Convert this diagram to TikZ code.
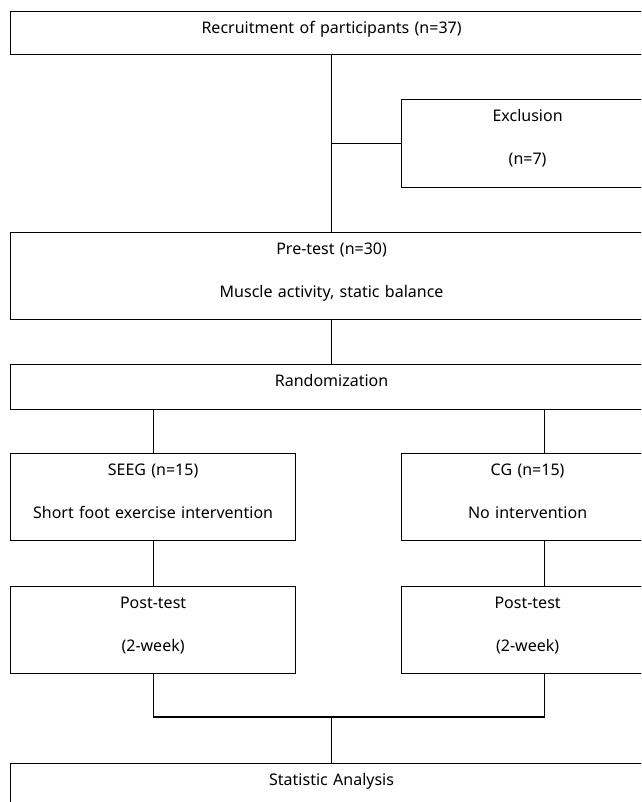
\documentclass[tikz,border=0pt]{standalone}
\usepackage{fontspec}
\setmainfont{Noto Sans}
\usepackage{tikz}
\usetikzlibrary{positioning}

\begin{document}
\begin{tikzpicture}[
  x=1pt, y=-1pt,
  box/.style = {rectangle, draw, line width=1.2pt, anchor=north west,
                inner sep=0pt, align=center, text height=22pt,
                font=\fontsize{16}{43}\selectfont},
  wide/.style = {box, text width=642pt},
  half/.style = {box, text width=285pt},
  side/.style = {box, text width=252pt},
  link/.style = {line width=1.2pt}
]
\useasboundingbox (0,0) rectangle (641,802);
\clip (0,0) rectangle (641,802);

\node[wide, text depth=21pt] (recruit) at (10,11)  {Recruitment of participants (n=37)};
\node[side, text depth=66pt] (excl)    at (401,99) {Exclusion\\(n=7)};
\node[wide, text depth=65pt] (pretest) at (10,232) {Pre-test (n=30)\\Muscle activity, static balance};
\node[wide, text depth=23pt] (rand)    at (10,364) {Randomization};
\node[half, text depth=65pt] (seeg)    at (10,453) {SEEG (n=15)\\Short foot exercise intervention};
\node[side, text depth=65pt] (cg)      at (401,453) {CG (n=15)\\No intervention};
\node[half, text depth=65pt] (posta)   at (10,586) {Post-test\\(2-week)};
\node[side, text depth=65pt] (postb)   at (401,586) {Post-test\\(2-week)};
\node[wide, text depth=39pt] (stat)    at (10,763) {Statistic Analysis};

\coordinate (merge) at (stat.north |- 0,717);

\draw[link] (recruit) -- (pretest);
\draw[link] (recruit.south |- excl.west) -- (excl.west);
\draw[link] (pretest) -- (rand);
\draw[link] (seeg.north |- rand.south) -- (seeg.north);
\draw[link] ([xshift=17pt]cg.north |- rand.south) -- ([xshift=17pt]cg.north);
\draw[link] (seeg) -- (posta);
\draw[link] ([xshift=17pt]cg.south) -- ([xshift=17pt]postb.north);
\draw[link] (posta.south) |- (merge) -| ([xshift=17pt]postb.south);
\draw[link] (merge) -- (stat.north);

\end{tikzpicture}
\end{document}
